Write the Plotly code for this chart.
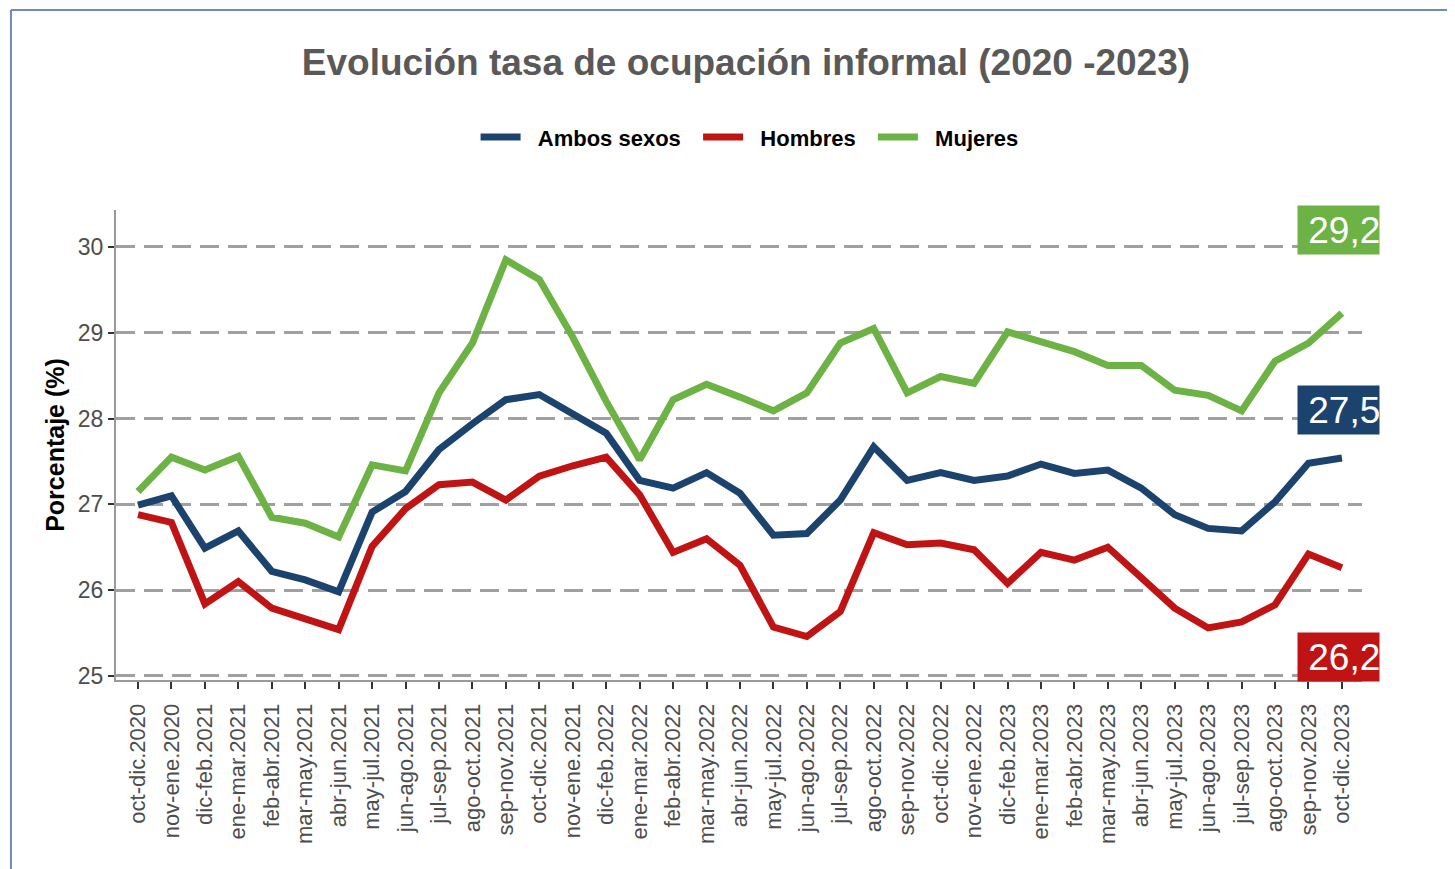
import plotly.graph_objects as go

periodos = [
    "oct-dic.2020", "nov-ene.2020", "dic-feb.2021", "ene-mar.2021", "feb-abr.2021",
    "mar-may.2021", "abr-jun.2021", "may-jul.2021", "jun-ago.2021", "jul-sep.2021",
    "ago-oct.2021", "sep-nov.2021", "oct-dic.2021", "nov-ene.2021", "dic-feb.2022",
    "ene-mar.2022", "feb-abr.2022", "mar-may.2022", "abr-jun.2022", "may-jul.2022",
    "jun-ago.2022", "jul-sep.2022", "ago-oct.2022", "sep-nov.2022", "oct-dic.2022",
    "nov-ene.2022", "dic-feb.2023", "ene-mar.2023", "feb-abr.2023", "mar-may.2023",
    "abr-jun.2023", "may-jul.2023", "jun-ago.2023", "jul-sep.2023", "ago-oct.2023",
    "sep-nov.2023", "oct-dic.2023",
]

ambos = [
    26.99, 27.10, 26.49, 26.69, 26.22, 26.12, 25.98, 26.91, 27.15, 27.64,
    27.94, 28.22, 28.28, 28.06, 27.83, 27.28, 27.19, 27.37, 27.13, 26.64,
    26.66, 27.05, 27.67, 27.28, 27.37, 27.28, 27.33, 27.47, 27.36, 27.40,
    27.19, 26.88, 26.72, 26.69, 27.03, 27.48, 27.54,
]
hombres = [
    26.88, 26.79, 25.84, 26.10, 25.79, 25.67, 25.54, 26.51, 26.95, 27.23,
    27.26, 27.05, 27.33, 27.45, 27.55, 27.11, 26.44, 26.60, 26.29, 25.57,
    25.46, 25.75, 26.67, 26.53, 26.55, 26.47, 26.08, 26.44, 26.35, 26.50,
    26.14, 25.79, 25.56, 25.63, 25.83, 26.42, 26.26,
]
mujeres = [
    27.15, 27.55, 27.40, 27.56, 26.85, 26.78, 26.62, 27.46, 27.39, 28.30,
    28.88, 29.85, 29.62, 28.95, 28.20, 27.52, 28.22, 28.40, 28.25, 28.09,
    28.30, 28.88, 29.05, 28.30, 28.49, 28.41, 29.01, 28.90, 28.78, 28.62,
    28.62, 28.33, 28.27, 28.09, 28.67, 28.88, 29.23,
]

series = [
    ("Ambos sexos", ambos, "#1c436e"),
    ("Hombres", hombres, "#c01414"),
    ("Mujeres", mujeres, "#6db244"),
]

# etiquetas del ultimo valor (posicion vertical fija, como en el original)
etiquetas = [("29,2", 30.20, "#6db244"), ("27,5", 28.10, "#1c436e"), ("26,2", 25.22, "#c01414")]

x_idx = list(range(len(periodos)))
nb = "\u00a0"

fig = go.Figure()
for name, vals, color in series:
    fig.add_trace(go.Scatter(
        x=x_idx, y=vals, name=nb * 2 + name + nb * 2, mode="lines",
        line=dict(color=color, width=7),
    ))

for txt, yv, color in etiquetas:
    fig.add_annotation(
        x=34.66, y=yv, xref="x", yref="y", xanchor="left", yanchor="middle",
        text=nb + txt, showarrow=False, align="left",
        width=81, height=48, borderpad=0,
        bgcolor=color, font=dict(family="Liberation Sans, Arial", size=37, color="white"),
    )

# marco del recuadro (lineas superior e izquierda)
fig.add_shape(type="line", xref="paper", yref="paper", x0=-0.0843, x1=1.09, y0=1.4255, y1=1.4255,
              line=dict(color="#6f8bbd", width=2))
fig.add_shape(type="line", xref="paper", yref="paper", x0=-0.0843, x1=-0.0843, y0=-0.45, y1=1.4255,
              line=dict(color="#6f8bbd", width=2))

fig.update_layout(
    width=1455, height=869,
    margin=dict(l=108, r=101, t=202, b=197),
    paper_bgcolor="white", plot_bgcolor="white",
    title=dict(
        text="Evolución tasa de ocupación informal (2020 -2023)",
        x=0.5056, xref="paper", xanchor="center", y=1 - 54 / 869, yanchor="middle",
        font=dict(family="Liberation Sans Narrow, Arial Narrow, Liberation Sans, sans-serif",
                  size=37, color="#595959", weight="bold"),
    ),
    legend=dict(
        orientation="h", x=0.5133, xanchor="center", y=1.155, yanchor="middle",
        font=dict(family="Liberation Sans, Arial", size=22, color="black", weight="bold"),
        itemwidth=40,
    ),
    showlegend=True,
)

fig.update_xaxes(
    range=[-0.658, 36.60],
    tickmode="array", tickvals=x_idx, ticktext=periodos, tickangle=-90,
    tickfont=dict(family="Liberation Sans, Arial", size=22, color="#4d4d4d"),
    ticklabelstandoff=6,
    showgrid=False, zeroline=False,
    showline=True, linecolor="#9a9a9a", linewidth=2,
    ticks="outside", ticklen=7, tickwidth=2, tickcolor="#333333",
)
fig.update_yaxes(
    range=[24.953, 30.431],
    tickvals=[25, 26, 27, 28, 29, 30],
    tickfont=dict(family="Liberation Sans, Arial", size=23, color="#4d4d4d"),
    showgrid=True, gridcolor="#a0a0a0", gridwidth=3, griddash="19px,9px",
    zeroline=False,
    showline=True, linecolor="#9a9a9a", linewidth=2,
    ticks="outside", ticklen=6, tickwidth=2, tickcolor="#333333",
    title=dict(text="Porcentaje (%)", standoff=6,
               font=dict(family="Liberation Sans, Arial", size=25, color="black", weight="bold")),
)

fig.write_html("out.html")
